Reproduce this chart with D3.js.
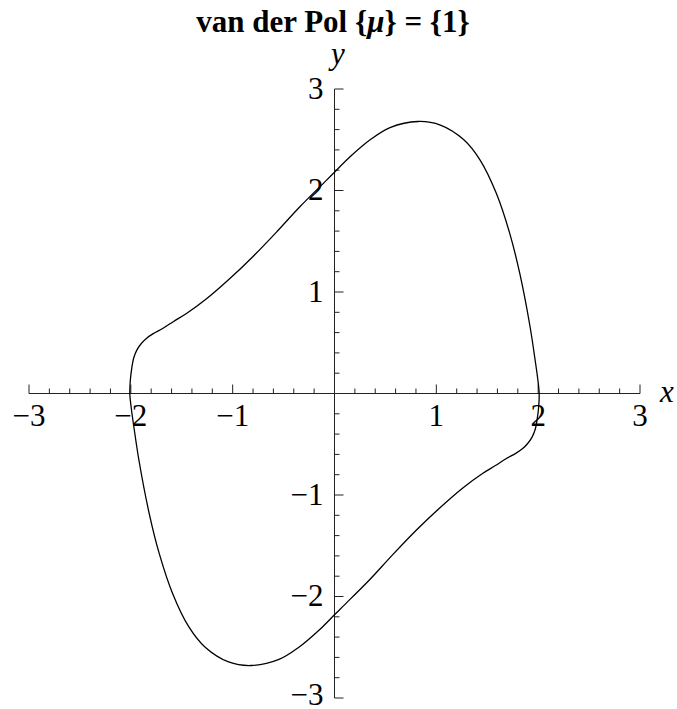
<!DOCTYPE html>
<html>
<head>
<meta charset="utf-8">
<script src="https://cdn.jsdelivr.net/npm/d3@7"></script>
<style>
  body { margin: 0; background: #fff; }
  text { font-family: "Liberation Serif", "Times New Roman", serif; }
</style>
</head>
<body>
<script>
var w = 677;
var h = 709;

// limit cycle, upper half (left to right over the top)
var upperX = [-2.01, -2.005, -1.99, -1.972, -1.94, -1.895, -1.845, -1.78, -1.68, -1.58, -1.45, -1.26, -1.03, -0.80, -0.57, -0.34, -0.08, 0.0, 0.15, 0.35, 0.545, 0.82, 1.04, 1.27, 1.43, 1.59, 1.72, 1.82, 1.92, 1.97, 1.995];
var upperY = [0, 0.13, 0.255, 0.35, 0.43, 0.495, 0.545, 0.59, 0.645, 0.71, 0.79, 0.93, 1.13, 1.35, 1.59, 1.84, 2.10, 2.18, 2.33, 2.50, 2.62, 2.68, 2.645, 2.50, 2.30, 1.97, 1.58, 1.18, 0.66, 0.33, 0.15];
// lower half (right to left under the bottom)
var lowerX = [2.01, 2.005, 1.99, 1.972, 1.94, 1.895, 1.845, 1.78, 1.68, 1.58, 1.45, 1.26, 1.03, 0.80, 0.57, 0.34, 0.08, 0.0, -0.15, -0.35, -0.545, -0.82, -1.04, -1.27, -1.43, -1.59, -1.72, -1.82, -1.92, -1.97, -1.995];
var lowerY = [0, -0.13, -0.255, -0.35, -0.43, -0.495, -0.545, -0.59, -0.645, -0.71, -0.79, -0.93, -1.13, -1.35, -1.59, -1.84, -2.10, -2.18, -2.33, -2.50, -2.62, -2.68, -2.645, -2.50, -2.30, -1.97, -1.58, -1.18, -0.66, -0.33, -0.15];

var majorTicks = [-3, -2, -1, 1, 2, 3];
var tickLabels = ["\u22123", "\u22122", "\u22121", "1", "2", "3"];

var cycle = [];
for (var i = 0; i < upperX.length; i++) cycle.push([upperX[i], upperY[i]]);
for (var i = 0; i < lowerX.length; i++) cycle.push([lowerX[i], lowerY[i]]);

var x = d3.scaleLinear().domain([-3, 3]).range([29, 640]);
var y = d3.scaleLinear().domain([-3, 3]).range([698, 89]);

var svg = d3.select("body")
  .append("svg")
  .attr("width", w)
  .attr("height", h);

var title = svg.append("text")
  .attr("x", 333)
  .attr("y", 32)
  .attr("text-anchor", "middle")
  .attr("font-size", 31)
  .attr("font-weight", "bold");
title.append("tspan").text("van der Pol {");
title.append("tspan").attr("font-style", "italic").text("\u03bc");
title.append("tspan").text("} = {1}");

var minorTicks = d3.range(-30, 31, 2).map(function(d) { return d / 10; })
  .filter(function(d) { return Math.abs(d - Math.round(d)) > 1e-6; });

var axisColor = "#222";

// x axis
svg.append("line")
  .attr("x1", x(-3)).attr("x2", x(3))
  .attr("y1", y(0)).attr("y2", y(0))
  .attr("stroke", axisColor);

svg.selectAll(".xmaj")
  .data(majorTicks).enter().append("line")
  .attr("x1", function(d) { return x(d); })
  .attr("x2", function(d) { return x(d); })
  .attr("y1", y(0)).attr("y2", y(0) - 9)
  .attr("stroke", axisColor);

svg.selectAll(".xmin")
  .data(minorTicks).enter().append("line")
  .attr("x1", function(d) { return x(d); })
  .attr("x2", function(d) { return x(d); })
  .attr("y1", y(0)).attr("y2", y(0) - 5)
  .attr("stroke", axisColor);

svg.selectAll(".xlab")
  .data(majorTicks).enter().append("text")
  .attr("x", function(d) { return x(d); })
  .attr("y", y(0) + 32)
  .attr("text-anchor", "middle")
  .attr("font-size", 31)
  .text(function(d, i) { return tickLabels[i]; });

// y axis
svg.append("line")
  .attr("x1", x(0)).attr("x2", x(0))
  .attr("y1", y(-3)).attr("y2", y(3))
  .attr("stroke", axisColor);

svg.selectAll(".ymaj")
  .data(majorTicks).enter().append("line")
  .attr("x1", x(0)).attr("x2", x(0) + 9)
  .attr("y1", function(d) { return y(d); })
  .attr("y2", function(d) { return y(d); })
  .attr("stroke", axisColor);

svg.selectAll(".ymin")
  .data(minorTicks).enter().append("line")
  .attr("x1", x(0)).attr("x2", x(0) + 5)
  .attr("y1", function(d) { return y(d); })
  .attr("y2", function(d) { return y(d); })
  .attr("stroke", axisColor);

// the bottom label sits on the picture's edge; keep it just inside
svg.selectAll(".ylab")
  .data(majorTicks).enter().append("text")
  .attr("x", x(0) - 11)
  .attr("y", function(d) { return Math.min(y(d) + 9.5, h - 4); })
  .attr("text-anchor", "end")
  .attr("font-size", 31)
  .text(function(d, i) { return tickLabels[i]; });

// axis names
svg.append("text")
  .attr("x", 660)
  .attr("y", 402)
  .attr("font-size", 31)
  .attr("font-style", "italic")
  .text("x");

svg.append("text")
  .attr("x", 338)
  .attr("y", 64)
  .attr("text-anchor", "middle")
  .attr("font-size", 31)
  .attr("font-style", "italic")
  .text("y");

var line = d3.line()
  .x(function(d) { return x(d[0]); })
  .y(function(d) { return y(d[1]); })
  .curve(d3.curveCatmullRomClosed.alpha(0.5));

svg.append("path")
  .datum(cycle)
  .attr("d", line)
  .attr("fill", "none")
  .attr("stroke", "#000")
  .attr("stroke-width", 1.3);
</script>
</body>
</html>
